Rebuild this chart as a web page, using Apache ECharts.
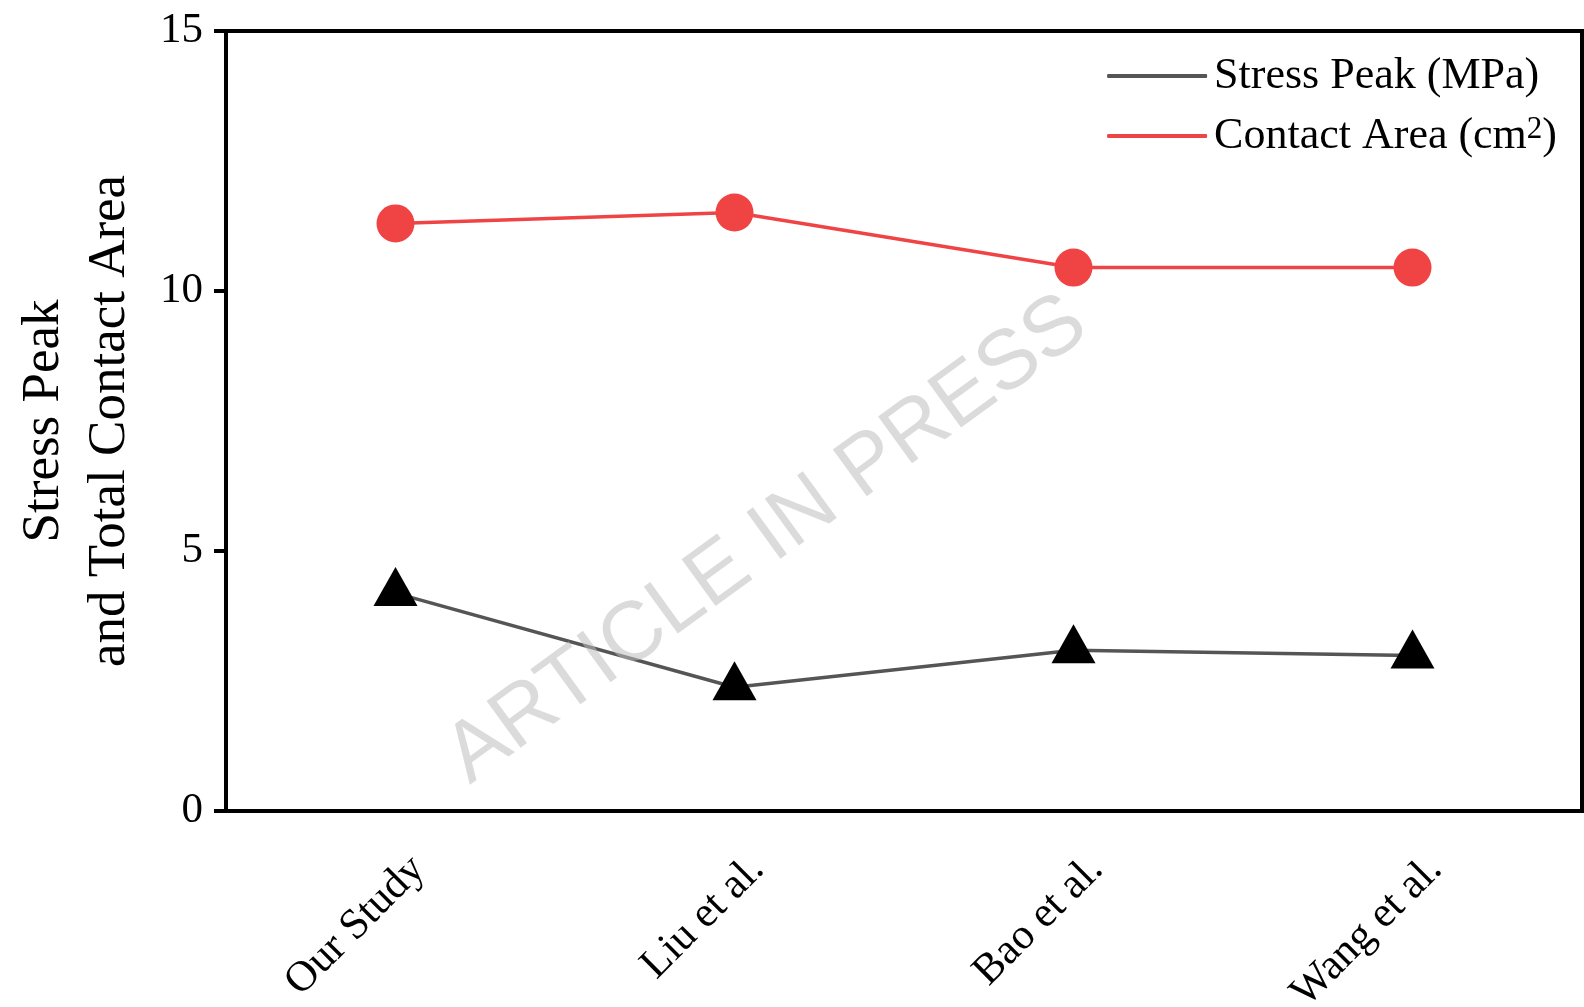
<!DOCTYPE html>
<html>
<head>
<meta charset="utf-8">
<title>Stress Peak and Total Contact Area</title>
<script src="https://cdn.jsdelivr.net/npm/echarts@6/dist/echarts.min.js"></script>
<style>
  html, body { margin: 0; padding: 0; background: #fff; }
  #chart { width: 1584px; height: 1007px; }
</style>
</head>
<body>
<div id="chart"></div>
<script>
// Studies compared along the x axis
const studies = ['Our Study', 'Liu et al.', 'Bao et al.', 'Wang et al.'];
// Peak stress per study (MPa)
const stressPeak = [4.19, 2.38, 3.09, 2.99];
// Total contact area per study (cm²)
const contactArea = [11.30, 11.51, 10.45, 10.45];
// Value axis ticks
const yTicks = { min: 0, max: 15, interval: 5 };

const serif = '"Liberation Serif", "Times New Roman", serif';
const stressColor = '#555555';
const areaColor = '#f04444';

const chart = echarts.init(document.getElementById('chart'), null, { renderer: 'canvas' });

chart.setOption({
  backgroundColor: '#ffffff',
  animation: false,
  grid: {
    left: 226, right: 2, top: 31, bottom: 196,
    outerBoundsMode: 'none',
    containLabel: false,
    show: true, borderColor: '#000', borderWidth: 4, backgroundColor: 'transparent'
  },
  legend: {
    orient: 'vertical',
    right: 27, top: 54,
    padding: 0,
    itemGap: 16,
    itemWidth: 100, itemHeight: 4,
    icon: 'roundRect',
    textStyle: {
      fontFamily: serif, fontSize: 44, color: '#000', lineHeight: 44, padding: [0, 0, 0, 2],
      rich: {
        sup: { fontFamily: serif, fontSize: 31, color: '#000', verticalAlign: 'top', lineHeight: 44, padding: [0, 0, 24, 0] },
        base: { fontFamily: serif, fontSize: 44, color: '#000', lineHeight: 44 }
      }
    },
    data: [
      { name: 'Stress Peak (MPa)', itemStyle: { color: stressColor } },
      { name: 'Contact Area (cm2)', itemStyle: { color: areaColor } }
    ],
    formatter: function (name) {
      if (name === 'Contact Area (cm2)') return '{base|Contact Area (cm}{sup|2}{base|)}';
      return name;
    }
  },
  xAxis: {
    type: 'category',
    data: studies,
    boundaryGap: true,
    axisLine: { lineStyle: { color: '#000', width: 4 } },
    axisTick: { alignWithLabel: true, length: 12, lineStyle: { color: '#000', width: 4 } },
    axisLabel: {
      rotate: 45, margin: 29, align: 'right', verticalAlign: 'top',
      padding: [11, 0, 0, 0],
      fontFamily: serif, fontSize: 43, color: '#000', interval: 0
    },
    splitLine: { show: false }
  },
  yAxis: {
    type: 'value',
    min: yTicks.min, max: yTicks.max, interval: yTicks.interval,
    name: 'Stress Peak\nand Total Contact Area',
    nameLocation: 'middle',
    nameGap: 83,
    nameTextStyle: { fontFamily: serif, fontSize: 53, color: '#000', lineHeight: 66 },
    axisLine: { show: true, lineStyle: { color: '#000', width: 4 } },
    axisTick: { show: true, length: 12, lineStyle: { color: '#000', width: 4 } },
    axisLabel: { margin: 23, fontFamily: serif, fontSize: 43, color: '#000' },
    splitLine: { show: false }
  },
  series: [
    {
      name: 'Stress Peak (MPa)',
      type: 'line',
      data: stressPeak,
      color: stressColor,
      lineStyle: { color: stressColor, width: 3.5 },
      symbol: 'triangle',
      symbolSize: [44, 39],
      symbolOffset: [0, -6.5],
      itemStyle: { color: '#000000' },
      z: 3
    },
    {
      name: 'Contact Area (cm2)',
      type: 'line',
      data: contactArea,
      color: areaColor,
      lineStyle: { color: areaColor, width: 3.5 },
      symbol: 'circle',
      symbolSize: 38,
      itemStyle: { color: areaColor },
      z: 3
    }
  ],
  graphic: [
    {
      type: 'text',
      x: 767, y: 540,
      rotation: 36 * Math.PI / 180,
      z: 100,
      silent: true,
      style: {
        text: 'ARTICLE IN PRESS',
        fontFamily: '"Liberation Sans", Arial, sans-serif',
        fontSize: 84,
        fill: 'rgba(190,190,190,0.55)',
        textAlign: 'center',
        textVerticalAlign: 'middle'
      }
    }
  ]
});
</script>
</body>
</html>
